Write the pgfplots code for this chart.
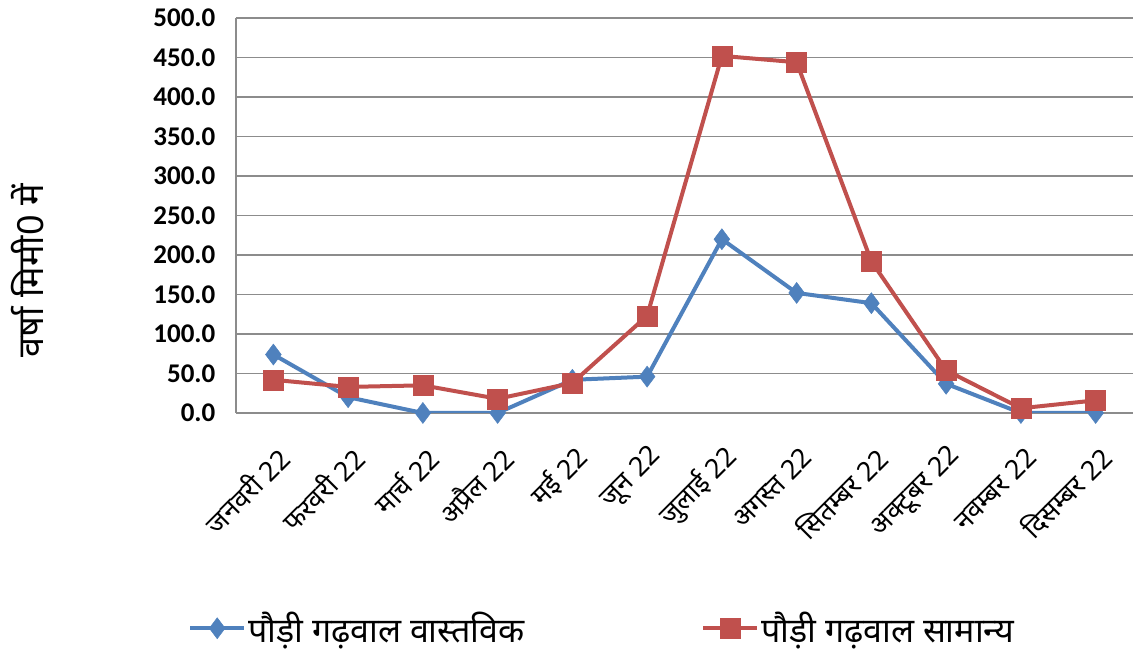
\documentclass[border=0pt]{standalone}
\usepackage{pgfplots}
\pgfplotsset{compat=1.18}
\usepackage{fontspec}
\setmainfont{Carlito}
\newfontfamily\dev[Script=Devanagari]{Noto Sans}
\definecolor{cblue}{HTML}{4F81BD}
\definecolor{cred}{HTML}{C0504D}
\definecolor{cgrid}{HTML}{8C8C8C}
\begin{document}
\begin{tikzpicture}
\useasboundingbox (0pt,0pt) rectangle (1133pt,655pt);
\begin{axis}[
  at={(236pt,242pt)}, anchor=south west,
  scale only axis, width=897pt, height=395pt,
  xmin=0.5, xmax=12.5, ymin=0, ymax=500,
  ytick distance=50,
  xtick={1,...,12},
  xticklabels={जनवरी 22, फरवरी 22, मार्च 22, अप्रैल 22, मई 22, जून 22, जुलाई 22, अगस्त 22, सितम्बर 22, अक्टूबर 22, नवम्बर 22, दिसम्बर 22},
  xticklabel style={font=\dev\fontsize{27}{27}\selectfont, rotate=45, anchor=east, inner sep=0pt, xshift=-19pt, yshift=-34pt},
  yticklabel style={font=\bfseries\fontsize{27}{27}\selectfont, xshift=-15pt},
  /pgf/number format/assume math mode=true,
  /pgf/number format/.cd, fixed, fixed zerofill, precision=1, /pgfplots/.cd,
  ymajorgrids, grid style={cgrid, line width=1.4pt},
  axis x line=bottom, axis y line=left,
  axis line style={cgrid, line width=1.4pt, -},
  tick style={draw=none},
  ylabel={\dev वर्षा मिमी0 में},
  ylabel style={font=\fontsize{36}{36}\selectfont, at={(axis description cs:-0.232,0.36)}, anchor=center},
  legend columns=2,
  legend style={draw=none, fill=none, at={(axis description cs:0.408,-0.545)}, anchor=center,
    font=\dev\fontsize{34}{34}\selectfont, /tikz/every even column/.append style={column sep=175pt}},
  legend image code/.code={\draw[mark repeat=2,mark phase=2] plot coordinates {(0pt,0pt) (27pt,0pt) (54pt,0pt)};},
]
\addplot[cblue, line width=4pt, mark=diamond*, mark size=10.5pt, mark options={line width=0.5pt}] coordinates {
(1,74) (2,20) (3,0) (4,0) (5,42) (6,46) (7,220) (8,152) (9,139) (10,37) (11,0) (12,0)};
\addlegendentry{पौड़ी गढ़वाल वास्तविक}
\addplot[cred, line width=4pt, mark=square*, mark size=10pt, mark options={line width=0.5pt}] coordinates {
(1,42) (2,33) (3,35) (4,18) (5,38) (6,123) (7,452) (8,444) (9,192) (10,54) (11,6) (12,16)};
\addlegendentry{पौड़ी गढ़वाल सामान्य}
\end{axis}
\end{tikzpicture}
\end{document}
